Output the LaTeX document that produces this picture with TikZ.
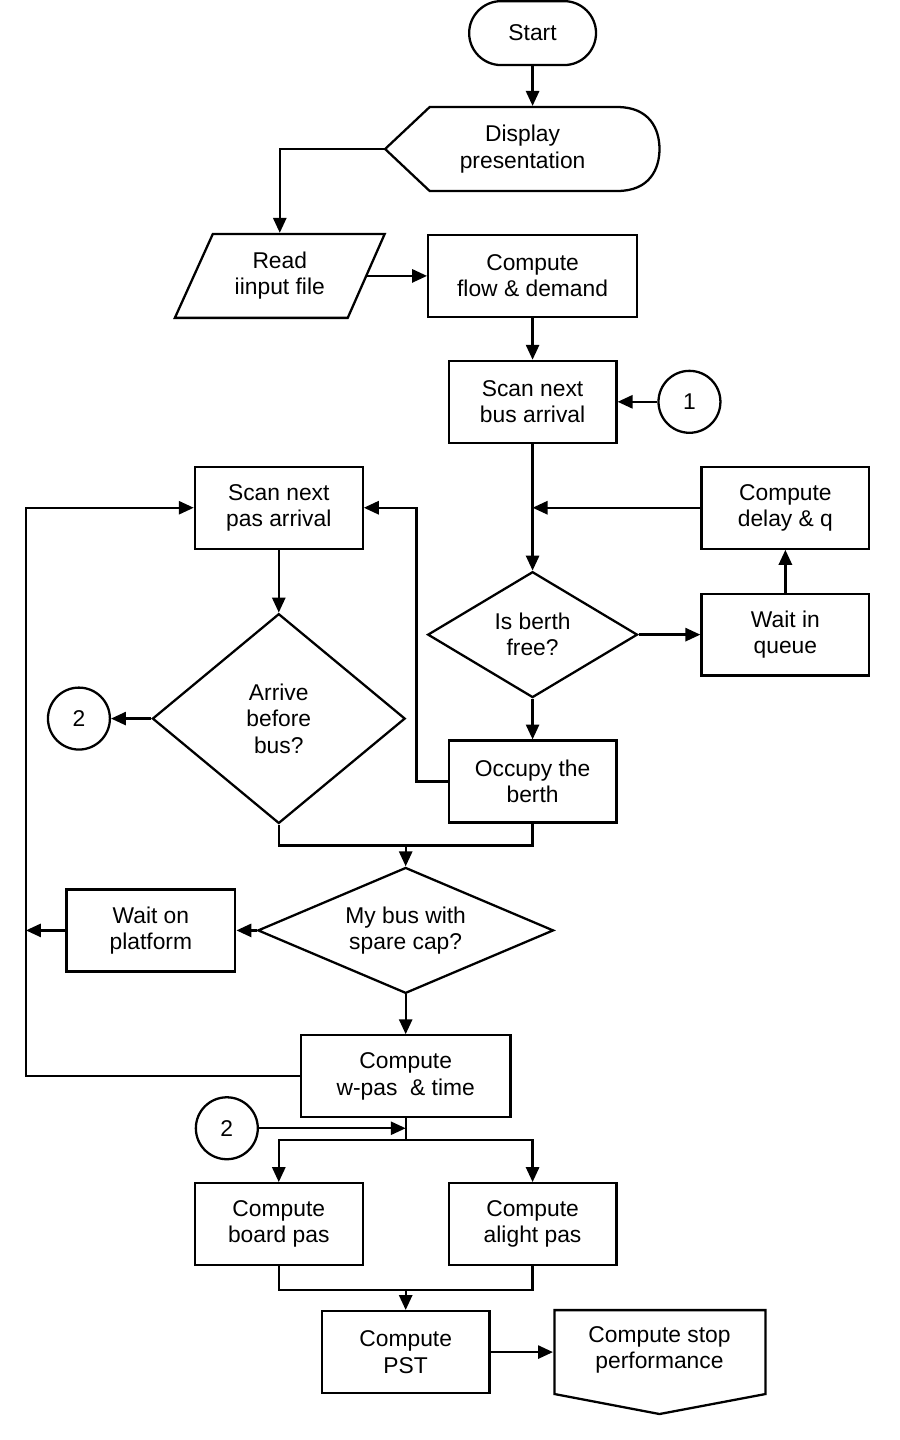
\documentclass[tikz,border=0pt]{standalone}
\usepackage{fontspec}
\setmainfont{Liberation Sans}
\usetikzlibrary{arrows.meta,shapes.geometric}

\begin{document}
\begin{tikzpicture}[x=0.02cm,y=-0.02cm,line width=1.3pt,
	every node/.style={font=\fontsize{13}{15}\selectfont,align=center},
	box/.style={draw,minimum width=3.36cm,minimum height=1.64cm,inner sep=2pt},
	dec/.style={draw,diamond,inner sep=0pt},
	conn/.style={draw,circle,minimum size=1.24cm,inner sep=0pt},
	arr/.style={-{Triangle[length=8.5pt,width=7.5pt]}}]
				\fill[white] (0,0) rectangle (900,1440);
				\node[draw,rounded corners=0.64cm,minimum width=2.54cm,minimum height=1.28cm] (start) at (533,32) {Start};
				\node[minimum width=5.46cm,minimum height=1.68cm] (display) at (523,148) {Display\\presentation};
				\draw (display.west) -- (430,106) -- (618,106) .. controls (650,106) and (660,128) .. (660,148) .. controls (660,168) and (650,190) .. (618,190) -- (430,190) -- cycle;
				\node[minimum width=3.46cm,minimum height=1.68cm] (read) at (280,275) {Read\\iinput file};
				\draw (213,233) -- (385,233) -- (348,317) -- (175,317) -- cycle;
				\node[box,minimum width=4.18cm] (flow) at (533,275) {Compute\\flow \& demand};
				\node[box] (scanbus) at (533,401) {Scan next\\bus arrival};
				\node[conn] (c1) at (690,401) {1};
				\node[box] (delay) at (786,507) {Compute\\delay \& q};
				\node[dec,aspect=1.67,minimum width=4.2cm,minimum height=2.52cm] (berth) at (533,634) {Is berth\\free?};
				\node[box] (queue) at (786,634) {Wait in\\queue};
				\node[box] (occupy) at (533,781) {Occupy the\\berth};
				\node[box] (scanpas) at (279,507) {Scan next\\pas arrival};
				\node[dec,aspect=1.2,minimum width=5.06cm,minimum height=4.2cm] (arrive) at (279,718) {Arrive\\before\\bus?};
				\node[conn] (c2a) at (79,718) {2};
				\node[dec,aspect=2.35,minimum width=5.92cm,minimum height=2.52cm] (mybus) at (406,930) {My bus with\\spare cap?};
				\node[box,minimum width=3.38cm] (platform) at (151,930) {Wait on\\platform};
				\node[box,minimum width=4.2cm] (wpas) at (406,1076) {Compute\\w-pas\ \ \& time};
				\node[conn] (c2b) at (227,1128) {2};
				\node[box] (board) at (279,1224) {Compute\\board pas};
				\node[box] (alight) at (533,1224) {Compute\\alight pas};
				\node[box] (pst) at (406,1352) {Compute\\PST};
				\node[minimum width=4.22cm,minimum height=1.68cm] (perf) at (660,1350) {Compute stop\\performance};
				\draw (555,1310) -- (766,1310) -- (766,1394) -- (660,1414) -- (555,1394) -- cycle;
				\coordinate (rail) at (26,507);
				\coordinate (join1) at (406,845);
				\coordinate (join2) at (406,1140);
				\coordinate (join3) at (406,1290);
				\draw[arr] (start) -- (start |- display.north);
				\draw[arr] (display.west) -| (read.north);
				\draw[arr] (read.east) -- (flow.west);
				\draw[arr] (flow) -- (scanbus);
				\draw[arr] (c1) -- (scanbus);
				\draw[arr] (scanbus) -- (berth);
				\draw[arr] (delay) -- (delay -| berth);
				\draw[arr] (berth) -- (queue);
				\draw[arr] (queue) -- (delay);
				\draw[arr] (berth) -- (occupy);
				\draw[arr] (occupy.west) -- ++(-31,0) |- (scanpas.east);
				\draw[arr] (scanpas) -- (arrive);
				\draw[arr] (arrive) -- (c2a);
				\draw (arrive.south) |- (join1) -| (occupy.south);
				\draw[arr] (join1) -- (mybus);
				\draw[arr] (mybus) -- (platform);
				\draw[arr] (platform) -- (platform -| rail);
				\draw[arr] (wpas.west) -| (rail) -- (scanpas.west);
				\draw[arr] (mybus) -- (wpas);
				\draw (wpas) -- (join2);
				\draw[arr] (join2) -| (board);
				\draw[arr] (join2) -| (alight);
				\draw[arr] (c2b) -- (c2b -| wpas);
				\draw (board) |- (join3) -| (alight);
				\draw[arr] (join3) -- (pst);
				\draw[arr] (pst) -- (pst -| perf.west);
			\end{tikzpicture}
\end{document}
